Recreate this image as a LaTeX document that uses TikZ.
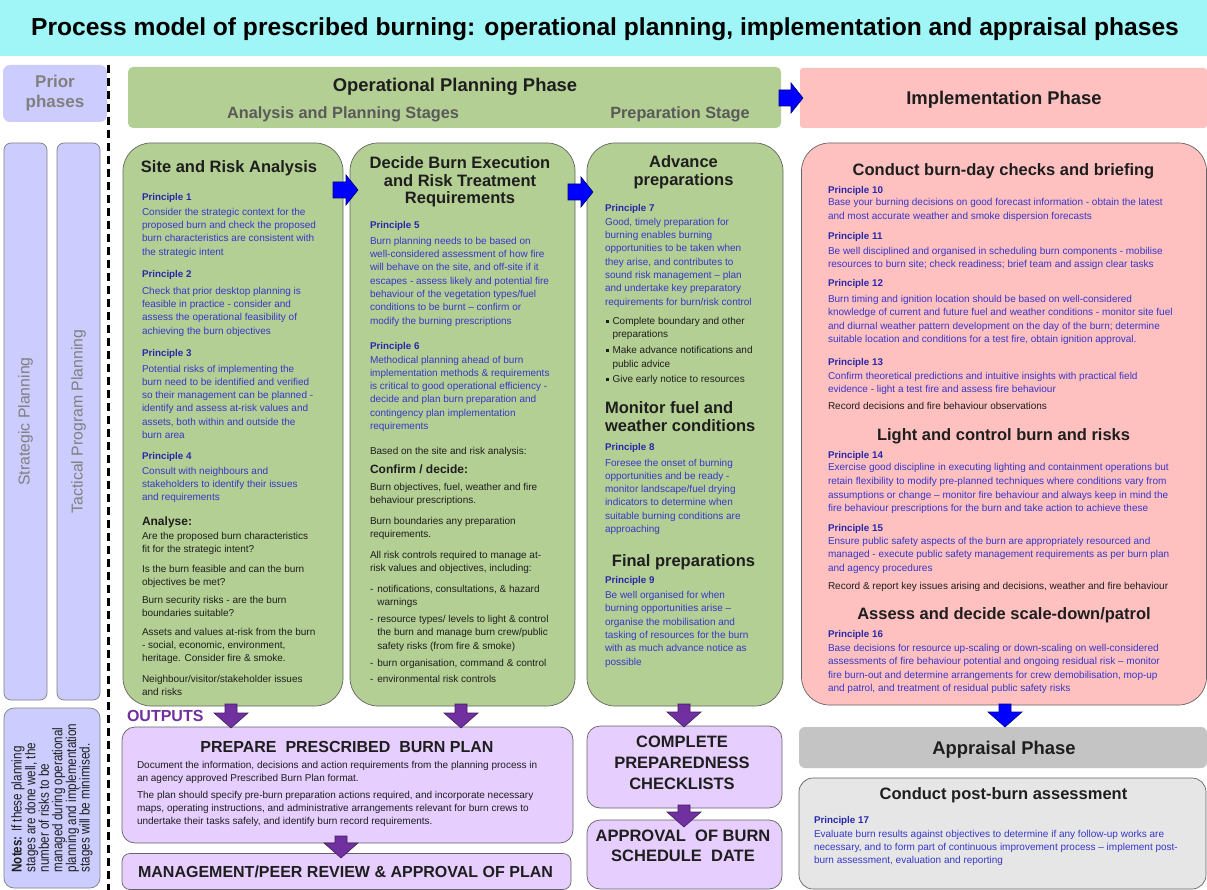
\documentclass[tikz,border=0pt]{standalone}
\usepackage{fontspec}
\setmainfont{Liberation Sans}
\newfontfamily\narrowfont[FakeStretch=0.82]{Liberation Sans}
\usetikzlibrary{calc}
\definecolor{titlebg}{RGB}{160,246,246}
\definecolor{lav}{RGB}{204,204,255}
\definecolor{grn}{RGB}{180,207,148}
\definecolor{pnk}{RGB}{255,192,192}
\definecolor{outp}{RGB}{230,206,255}
\definecolor{purp}{RGB}{112,48,160}
\definecolor{apg}{RGB}{196,196,196}
\definecolor{pbg}{RGB}{230,230,230}
\definecolor{bodyc}{RGB}{55,55,200}
\definecolor{prc}{RGB}{40,40,170}
\definecolor{blk}{RGB}{30,30,30}
\definecolor{gtx}{RGB}{128,128,128}
\definecolor{stagec}{RGB}{90,90,90}
\definecolor{bord}{RGB}{100,100,100}
\newcommand\blkRarrow[3]{%
  \draw[fill=blue, draw=blue!50!black, line width=0.6pt] (#1,#3-8) -- (#2-12,#3-8) -- (#2-12,#3-15) -- (#2,#3) -- (#2-12,#3+15) -- (#2-12,#3+8) -- (#1,#3+8) -- cycle;}
\newcommand\blkDarrow[4]{%
  \draw[fill=#4, draw=#4!60!black, line width=0.6pt] (#1-6,#2) -- (#1+6,#2) -- (#1+6,#3-15) -- (#1+17,#3-15) -- (#1,#3) -- (#1-17,#3-15) -- (#1-6,#3-15) -- cycle;}
\begin{document}
\begin{tikzpicture}[x=1pt,y=-1pt,
  every node/.style={inner sep=0pt, outer sep=0pt},
  panel/.style={draw=bord, line width=0.7pt},
  colbox/.style={panel, fill=grn, rounded corners=28pt},
  pinkbox/.style={panel, fill=pnk, rounded corners=28pt},
  outbox/.style={panel, fill=outp, rounded corners=13pt},
  lavbox/.style={draw=gtx, line width=0.7pt, fill=lav, rounded corners=7pt},
  bt/.style={anchor=north west, align=left, font=\fontsize{10}{13.3}\selectfont, text=bodyc, execute at begin node=\strut},
  bk/.style={bt, text=blk},
  btI/.style={bt, font=\fontsize{10}{13.6}\selectfont},
  bkI/.style={btI, text=blk},
  tb/.style={anchor=north west, font=\fontsize{10}{13.3}\selectfont, text=blk},
  prh/.style={anchor=base west, font=\bfseries\fontsize{9.8}{11}\selectfont, text=prc},
  subhd/.style={anchor=base west, font=\bfseries\fontsize{12}{14}\selectfont, text=blk},
  hd/.style={anchor=base, font=\bfseries\fontsize{16.5}{18}\selectfont, text=blk},
  phd/.style={anchor=base, font=\bfseries\fontsize{18.4}{20}\selectfont, text=blk},
  hdm/.style={anchor=north, align=center, text=blk, execute at begin node=\strut},
  caps/.style={anchor=base, font=\bfseries\fontsize{16}{20}\selectfont, text=blk},
  stage/.style={anchor=base, font=\bfseries\fontsize{16.3}{18}\selectfont, text=stagec}
]
\useasboundingbox (0,0) rectangle (1207,890);
\fill[white] (0,0) rectangle (1207,890);

% title
\node[fill=titlebg, minimum width=1207, minimum height=56] (titlebar) at (603.5,28) {};
\node[anchor=base, font=\bfseries\fontsize{24.6}{28}\selectfont, text=black] (title) at (605,36) {Process model of prescribed burning: operational planning, implementation and appraisal phases};

% left column
\node[fill=lav, rounded corners=7pt, minimum width=104, minimum height=57] (prior) at (55,93.5) {};
\node[hdm, font=\bfseries\fontsize{17}{20}\selectfont, text=gtx] (priort) at (55,75.1) {Prior\\phases};
\node[lavbox, minimum width=43, minimum height=557] (strat) at (25.5,421.5) {};
\node[rotate=90, text=gtx, font=\fontsize{15.8}{18}\selectfont] (stratt) at (strat.center) {Strategic Planning};
\node[lavbox, minimum width=43, minimum height=557] (tact) at (78.5,421.5) {};
\node[rotate=90, text=gtx, font=\fontsize{15.8}{18}\selectfont] (tactt) at (tact.center) {Tactical Program Planning};
\node[lavbox, rounded corners=10pt, minimum width=96, minimum height=180] (notes) at (52,798) {};
\node[rotate=90, align=left, text=blk, font=\narrowfont\fontsize{14.2}{13.6}\selectfont] (notest) at (notes.center) {\textbf{Notes:} If these planning\\stages are done well, the\\number of risks to be\\managed during operational\\planning and implementation\\stages will be minimised.};
\coordinate (dtop) at (108,65);
\coordinate (dbot) at (108,890);
\draw[black, line width=3pt, dash pattern=on 8pt off 5pt] (dtop) -- (dbot);

% phase headers
\node[fill=grn, rounded corners=5pt, minimum width=653, minimum height=61] (oph) at (454.5,97.5) {};
\node[phd] (opht) at (455,91.6) {Operational Planning Phase};
\node[stage] (st1) at (343,118.9) {Analysis and Planning Stages};
\node[stage] (st2) at (680,118.9) {Preparation Stage};
\node[fill=pnk, rounded corners=3pt, minimum width=407, minimum height=60] (imph) at (1003.5,98) {};
\node[phd] (impht) at (1004,104.6) {Implementation Phase};

% column boxes
\node[colbox, minimum width=220, minimum height=563] (site) at (233,424.5) {};
\node[colbox, minimum width=225, minimum height=563] (decide) at (462.5,424.5) {};
\node[colbox, minimum width=196, minimum height=563] (adv) at (685,424.5) {};
\node[pinkbox, minimum width=405, minimum height=562] (impl) at (1004,424) {};

% Site and risk analysis
\node[hd] (siteh) at (229,172.9) {Site and Risk Analysis};
\node[prh] (p1h) at (142,200.3) {Principle 1};
\node[bt] (p1t) at (142,208.1) {Consider the strategic context for the\\proposed burn and check the proposed\\burn characteristics are consistent with\\the strategic intent};
\node[prh] (p2h) at (142,278) {Principle 2};
\node[bt] (p2t) at (142,287.1) {Check that prior desktop planning is\\feasible in practice - consider and\\assess the operational feasibility of\\achieving the burn objectives};
\node[prh] (p3h) at (142,356.3) {Principle 3};
\node[bt] (p3t) at (142,364.8) {Potential risks of implementing the\\burn need to be identified and verified\\so their management can be planned -\\identify and assess at-risk values and\\assets, both within and outside the\\burn area};
\node[prh] (p4h) at (142,459.7) {Principle 4};
\node[bt] (p4t) at (142,467.1) {Consult with neighbours and\\stakeholders to identify their issues\\and requirements};
\node[subhd] (ana) at (142,525) {Analyse:};
\node[bk] (a1) at (142,532.1) {Are the proposed burn characteristics\\fit for the strategic intent?};
\node[bk] (a2) at (142,564.8) {Is the burn feasible and can the burn\\objectives be met?};
\node[bk] (a3) at (142,596.1) {Burn security risks - are the burn\\boundaries suitable?};
\node[bk] (a4) at (142,628.1) {Assets and values at-risk from the burn\\- social, economic, environment,\\heritage. Consider fire \& smoke.};
\node[bk] (a5) at (142,675.1) {Neighbour/visitor/stakeholder issues\\and risks};

% Decide burn execution
\node[hdm, font=\bfseries\fontsize{16.5}{17.5}\selectfont] (dech) at (460,157) {Decide Burn Execution\\and Risk Treatment\\Requirements};
\node[prh] (p5h) at (370,229) {Principle 5};
\node[bt] (p5t) at (370,237.1) {Burn planning needs to be based on\\well-considered assessment of how fire\\will behave on the site, and off-site if it\\escapes - assess likely and potential fire\\behaviour of the vegetation types/fuel\\conditions to be burnt – confirm or\\modify the burning prescriptions};
\node[prh] (p6h) at (370,349) {Principle 6};
\node[bt] (p6t) at (370,355.8) {Methodical planning ahead of burn\\implementation methods \& requirements\\is critical to good operational efficiency -\\decide and plan burn preparation and\\contingency plan implementation\\requirements};
\node[bk] (d0) at (370,444.8) {Based on the site and risk analysis:};
\node[subhd] (conf) at (370,473.3) {Confirm / decide:};
\node[bk] (d1) at (370,483.1) {Burn objectives, fuel, weather and fire\\behaviour prescriptions.};
\node[bk] (d2) at (370,517.1) {Burn boundaries any preparation\\requirements.};
\node[bk] (d3) at (370,551.4) {All risk controls required to manage at-\\risk values and objectives, including:};
\node[tb] (d4) at (370,583.1) {\begin{tabular}[t]{@{}l@{\hspace{4pt}}l@{}}-&notifications, consultations, \& hazard\\&warnings\\[3.5pt]-&resource types/ levels to light \& control\\&the burn and manage burn crew/public\\&safety risks (from fire \& smoke)\\[4pt]-&burn organisation, command \& control\\[3pt]-&environmental risk controls\end{tabular}};

% Advance preparations
\node[hdm, font=\bfseries\fontsize{16.5}{18}\selectfont] (advh) at (683.5,155.5) {Advance\\preparations};
\node[prh] (p7h) at (605,211.3) {Principle 7};
\node[bt] (p7t) at (605,218.1) {Good, timely preparation for\\burning enables burning\\opportunities to be taken when\\they arise, and contributes to\\sound risk management – plan\\and undertake key preparatory\\requirements for burn/risk control};
\node[tb] (bul) at (606,314.8) {\begin{tabular}[t]{@{}l@{\hspace{3.5pt}}l@{}}\rule[1.5pt]{3pt}{3pt}&Complete boundary and other\\&preparations\\[3pt]\rule[1.5pt]{3pt}{3pt}&Make advance notifications and\\&public advice\\[2.5pt]\rule[1.5pt]{3pt}{3pt}&Give early notice to resources\end{tabular}};
\node[hdm, anchor=north west, align=left, font=\bfseries\fontsize{16.5}{18.4}\selectfont] (monh) at (605,401.4) {Monitor fuel and\\weather conditions};
\node[prh] (p8h) at (605,450.3) {Principle 8};
\node[bt] (p8t) at (605,458.8) {Foresee the onset of burning\\opportunities and be ready -\\monitor landscape/fuel drying\\indicators to determine when\\suitable burning conditions are\\approaching};
\node[hd] (finh) at (683.5,566.6) {Final preparations};
\node[prh] (p9h) at (605,583.7) {Principle 9};
\node[bt] (p9t) at (605,591.4) {Be well organised for when\\burning opportunities arise –\\organise the mobilisation and\\tasking of resources for the burn\\with as much advance notice as\\possible};

% Implementation
\node[hd] (ih1) at (1003.5,175.9) {Conduct burn-day checks and briefing};
\node[prh] (p10h) at (828,193.7) {Principle 10};
\node[btI] (p10t) at (828,198.6) {Base your burning decisions on good forecast information - obtain the latest\\and most accurate weather and smoke dispersion forecasts};
\node[prh] (p11h) at (828,240) {Principle 11};
\node[btI] (p11t) at (828,246.9) {Be well disciplined and organised in scheduling burn components - mobilise\\resources to burn site; check readiness; brief team and assign clear tasks};
\node[prh] (p12h) at (828,287) {Principle 12};
\node[btI] (p12t) at (828,294.9) {Burn timing and ignition location should be based on well-considered\\knowledge of current and future fuel and weather conditions - monitor site fuel\\and diurnal weather pattern development on the day of the burn; determine\\suitable location and conditions for a test fire, obtain ignition approval.};
\node[prh] (p13h) at (828,366) {Principle 13};
\node[btI] (p13t) at (828,371.9) {Confirm theoretical predictions and intuitive insights with practical field\\evidence - light a test fire and assess fire behaviour};
\node[bkI] (r1) at (828,399.9) {Record decisions and fire behaviour observations};
\node[hd] (ih2) at (1003.5,440.9) {Light and control burn and risks};
\node[prh] (p14h) at (828,458) {Principle 14};
\node[btI] (p14t) at (828,463.6) {Exercise good discipline in executing lighting and containment operations but\\retain flexibility to modify pre-planned techniques where conditions vary from\\assumptions or change – monitor fire behaviour and always keep in mind the\\fire behaviour prescriptions for the burn and take action to achieve these};
\node[prh] (p15h) at (828,531) {Principle 15};
\node[btI] (p15t) at (828,536.9) {Ensure public safety aspects of the burn are appropriately resourced and\\managed - execute public safety management requirements as per burn plan\\and agency procedures};
\node[bkI] (r2) at (828,579.9) {Record \& report key issues arising and decisions, weather and fire behaviour};
\node[hd] (ih3) at (1004,619.9) {Assess and decide scale-down/patrol};
\node[prh] (p16h) at (828,637) {Principle 16};
\node[btI] (p16t) at (828,643.9) {Base decisions for resource up-scaling or down-scaling on well-considered\\assessments of fire behaviour potential and ongoing residual risk – monitor\\fire burn-out and determine arrangements for crew demobilisation, mop-up\\and patrol, and treatment of residual public safety risks};

% Outputs
\node[anchor=base west, font=\bfseries\fontsize{16}{18}\selectfont, text=purp] (outl) at (127,721.8) {OUTPUTS};
\node[outbox, minimum width=451, minimum height=116] (prep) at (347.5,785) {};
\node[caps] (preph) at (347,752.8) {PREPARE\ \ PRESCRIBED\ \ BURN PLAN};
\node[bk] (pb1) at (137,761.1) {Document the information, decisions and action requirements from the planning process in\\an agency approved Prescribed Burn Plan format.};
\node[bk] (pb2) at (137,791.1) {The plan should specify pre-burn preparation actions required, and incorporate necessary\\maps, operating instructions, and administrative arrangements relevant for burn crews to\\undertake their tasks safely, and identify burn record requirements.};
\node[outbox, rounded corners=8pt, minimum width=449, minimum height=36] (mgmt) at (346.5,871.5) {};
\node[caps] (mgmth) at (345.5,877.8) {MANAGEMENT/PEER REVIEW \& APPROVAL OF PLAN};
\node[outbox, minimum width=195, minimum height=82] (compl) at (684.5,767) {};
\node[hdm, font=\bfseries\fontsize{16.5}{21}\selectfont] (complt) at (682,736.2) {COMPLETE\\PREPAREDNESS\\CHECKLISTS};
\node[outbox, minimum width=195, minimum height=69] (appr) at (684.5,854.5) {};
\node[hdm, font=\bfseries\fontsize{16.5}{20}\selectfont] (apprt) at (683,829.9) {APPROVAL\ \ OF BURN\\SCHEDULE\ \ DATE};

% Appraisal
\node[fill=apg, rounded corners=6pt, minimum width=408, minimum height=41] (apph) at (1003,747.5) {};
\node[phd] (appht) at (1004,754.6) {Appraisal Phase};
\node[panel, fill=pbg, rounded corners=14pt, minimum width=407, minimum height=111] (post) at (1002.5,833.5) {};
\node[hd] (posth) at (1003.5,799.9) {Conduct post-burn assessment};
\node[prh] (p17h) at (814,823) {Principle 17};
\node[bt] (p17t) at (814,830.1) {Evaluate burn results against objectives to determine if any follow-up works are\\necessary, and to form part of continuous improvement process – implement post-\\burn assessment, evaluation and reporting};

% block arrows
\blkRarrow{333}{358}{190}
\blkRarrow{568}{593}{192}
\blkRarrow{779}{803}{98}
\blkDarrow{231}{704}{728}{purp}
\blkDarrow{461}{704}{728}{purp}
\blkDarrow{684}{704}{727}{purp}
\blkDarrow{341}{836}{858}{purp}
\blkDarrow{684}{805}{827}{purp}
\blkDarrow{1005}{704}{727}{blue}
\end{tikzpicture}
\end{document}
